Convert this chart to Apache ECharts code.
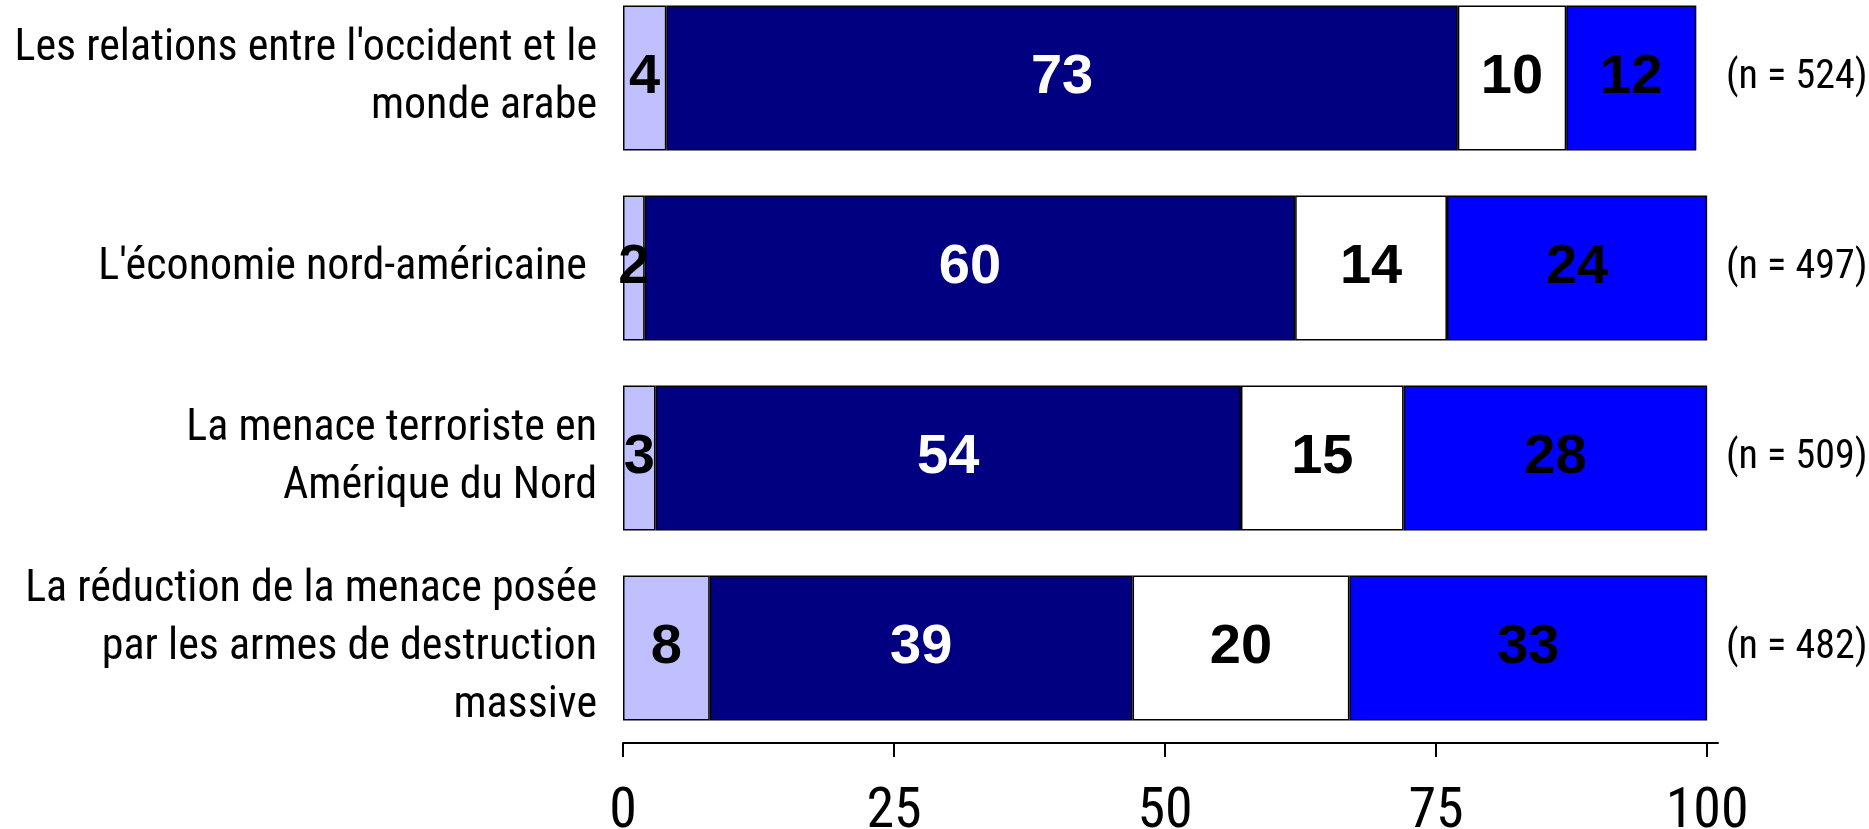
<!DOCTYPE html>
<html>
<head>
<meta charset="utf-8">
<script src="https://cdn.jsdelivr.net/npm/echarts@6/dist/echarts.min.js"></script>
<style>
  html, body { margin: 0; padding: 0; background: #ffffff; }
  #chart { width: 1869px; height: 829px; }
</style>
</head>
<body>
<div id="chart"></div>
<script>
// catégories (de haut en bas)
var categories = [
  "Les relations entre l'occident et le\nmonde arabe",
  "L'économie nord-américaine ",
  'La menace terroriste en\nAmérique du Nord',
  'La réduction de la menace posée\npar les armes de destruction\nmassive'
]
var nLabels = ['(n = 524)', '(n = 497)', '(n = 509)', '(n = 482)']

// pourcentages par segment
var seg1 = [4, 2, 3, 8]
var seg2 = [73, 60, 54, 39]
var seg3 = [10, 14, 15, 20]
var seg4 = [12, 24, 28, 33]

var xTicks = [0, 25, 50, 75, 100]

var narrow = "'Liberation Sans Narrow', 'Arial Narrow', 'Roboto Condensed', sans-serif"
var boldFont = "'Liberation Sans', Arial, sans-serif"

function makeSeries(name, data, fill, textColor) {
  return {
    name: name,
    type: 'bar',
    stack: 'total',
    barCategoryGap: '23.6%',
    data: data,
    itemStyle: {
      color: fill,
      borderColor: '#000000',
      borderWidth: 1.5
    },
    label: {
      show: true,
      position: 'inside',
      color: textColor,
      fontFamily: boldFont,
      fontWeight: 'bold',
      fontSize: 56
    }
  }
}

var myChart = echarts.init(document.getElementById('chart'))
var option = {
  animation: false,
  grid: {
    left: 623,
    right: 151,
    top: -17,
    bottom: 86,
    containLabel: false,
    outerBoundsMode: 'none'
  },
  xAxis: {
    type: 'value',
    min: 0,
    max: 101,
    splitLine: { show: false },
    axisLine: {
      show: true,
      lineStyle: { color: '#000000', width: 2 }
    },
    axisTick: {
      show: true,
      length: 14,
      customValues: xTicks,
      lineStyle: { color: '#000000', width: 2 }
    },
    axisLabel: {
      customValues: xTicks,
      margin: 42,
      color: '#000000',
      fontFamily: narrow,
      fontSize: 56
    }
  },
  yAxis: [
    {
      type: 'category',
      inverse: true,
      data: categories,
      axisLine: { show: false },
      axisTick: { show: false },
      axisLabel: {
        margin: 26,
        color: '#000000',
        fontFamily: narrow,
        fontSize: 44,
        lineHeight: 58,
        align: 'right'
      }
    },
    {
      type: 'category',
      inverse: true,
      position: 'right',
      data: nLabels,
      axisLine: { show: false },
      axisTick: { show: false },
      axisLabel: {
        margin: 8,
        color: '#000000',
        fontFamily: narrow,
        fontSize: 40
      }
    }
  ],
  series: [
    makeSeries('s1', seg1, '#C0C0FF', '#000000'),
    makeSeries('s2', seg2, '#000080', '#FFFFFF'),
    makeSeries('s3', seg3, '#FFFFFF', '#000000'),
    makeSeries('s4', seg4, '#0000FF', '#000000')
  ]
}
myChart.setOption(option)
</script>
</body>
</html>
